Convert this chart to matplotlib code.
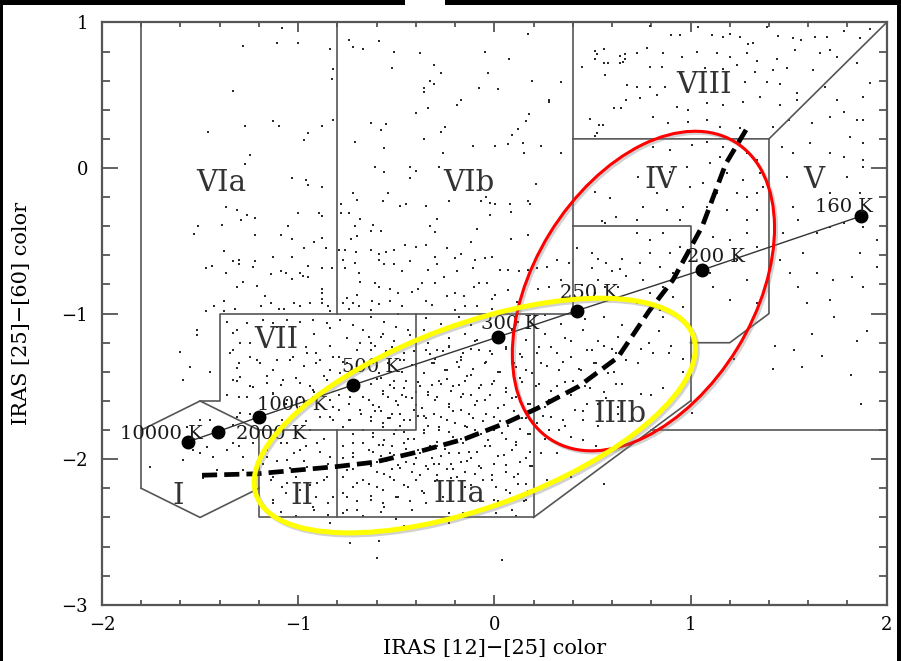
import numpy as np
import matplotlib.pyplot as plt
import matplotlib.patches as patches
import matplotlib.transforms as transforms
import matplotlib.patheffects as pe

plt.rcParams['font.family'] = ['DejaVu Serif']

# --- blackbody sequence --------------------------------------------------
bb_labels = ['10000 K', '2000 K', '1000 K', '500 K', '300 K', '250 K', '200 K', '160 K']
bb_x = [-1.56, -1.41, -1.20, -0.72, 0.02, 0.42, 1.06, 1.87]
bb_y = [-1.88, -1.81, -1.71, -1.49, -1.16, -0.98, -0.70, -0.33]
bb_label_x = [-1.70, -1.14, -1.03, -0.63, 0.08, 0.48, 1.13, 1.78]
bb_label_y = [-1.83, -1.83, -1.63, -1.37, -1.07, -0.86, -0.61, -0.27]

# --- dust shell sequence (dashed) -----------------------------------------
shell_x = [-1.49, -1.21, -0.80, -0.61, -0.39, -0.15, 0.06, 0.22, 0.43, 0.63, 0.79, 0.91, 1.06, 1.18, 1.30]
shell_y = [-2.11, -2.10, -2.05, -2.02, -1.95, -1.86, -1.75, -1.65, -1.50, -1.30, -0.98, -0.77, -0.40, 0.03, 0.30]

# --- region boundaries (van der Veen & Habing boxes) -----------------------
boundaries = [
    [(-1.8, 1.0), (-1.8, -2.2)],
    [(-1.8, -1.8), (-1.5, -1.6), (-1.2, -1.8), (-1.2, -2.2), (-1.5, -2.4), (-1.8, -2.2)],
    [(-1.5, -1.6), (-1.4, -1.6), (-1.4, -1.0), (0.4, -1.0)],
    [(-1.2, -1.8), (-0.4, -1.8), (-0.4, -1.0)],
    [(-0.8, 1.0), (-0.8, -1.0)],
    [(-0.8, -1.8), (-0.8, -2.4)],
    [(-1.2, -2.2), (-1.2, -2.4), (0.2, -2.4), (0.2, -1.0)],
    [(0.4, 1.0), (0.4, -1.0)],
    [(0.4, 0.2), (1.4, 0.2), (2.0, 1.0)],
    [(1.4, 0.2), (1.4, -1.0), (1.2, -1.2), (1.0, -1.2)],
    [(0.4, -0.4), (1.0, -0.4), (1.0, -1.6)],
    [(0.2, -2.4), (1.0, -1.6)],
    [(0.8, -1.8), (2.0, -1.8)],
]

region_names = ['VIa', 'VIb', 'VIII', 'IV', 'V', 'VII', 'I', 'II', 'IIIa', 'IIIb']
region_x = [-1.39, -0.13, 1.07, 0.85, 1.63, -1.11, -1.61, -0.98, -0.18, 0.64]
region_y = [-0.10, -0.10, 0.57, -0.08, -0.08, -1.18, -2.25, -2.25, -2.24, -1.69]

# --- IRAS sources ---------------------------------------------------------
sources_via = [
    (-1.08, 0.96), (-1.28, 0.84), (-1.11, 0.86), (-1.00, 0.86), (-0.84, 0.82), (-0.82, 0.68), (-0.83, 0.61),
    (-1.33, 0.53), (-1.46, 0.25), (-1.27, 0.29), (-1.13, 0.32), (-1.10, 0.29), (-0.97, 0.19), (-0.95, 0.24),
    (-0.88, 0.29), (-1.245, 0.09), (-1.27, 0.03), (-1.03, -0.07), (-0.96, -0.08), (-0.95, -0.12), (-0.88, -0.13),
    (-0.82, 0.33), (-1.37, -0.27), (-1.31, -0.29), (-1.26, -0.32), (-1.22, -0.34), (-1.29, -0.36), (-1.39, -0.39),
    (-1.51, -0.40), (-1.53, -0.45), (-1.22, -0.46), (-1.09, -0.46), (-1.05, -0.40), (-1.03, -0.49), (-1.00, -0.31),
    (-0.895, -0.31), (-0.88, -0.33), (-0.92, -0.51), (-0.88, -0.48), (-0.86, -0.55), (-0.97, -0.55), (-1.38, -0.57),
    (-1.13, -0.61), (-1.03, -0.61), (-1.33, -0.64), (-1.30, -0.63), (-1.30, -0.66), (-1.22, -0.64), (-1.23, -0.68),
    (-1.47, -0.69), (-1.44, -0.67), (-1.37, -0.72), (-1.31, -0.82), (-1.28, -0.78), (-1.21, -0.81), (-1.14, -0.73),
    (-1.09, -0.71), (-1.06, -0.72), (-1.03, -0.76), (-0.99, -0.72), (-0.975, -0.74), (-0.95, -0.75), (-0.95, -0.67),
    (-0.88, -0.69), (-0.83, -0.69), (-1.38, -0.91), (-1.43, -0.95), (-1.47, -0.98), (-1.38, -0.98), (-1.32, -0.97),
    (-1.19, -0.95), (-1.17, -0.88), (-1.14, -0.93), (-1.10, -0.97), (-1.02, -0.93), (-0.99, -0.95), (-0.94, -0.93),
    (-0.88, -0.83), (-0.88, -0.86), (-0.88, -0.90), (-0.88, -0.93), (-0.85, -0.95), (-0.84, -0.98), (-1.07, -0.97),
]

sources_vib = [
    (-0.74, 0.88), (-0.72, 0.83), (-0.67, 0.82), (-0.71, 0.18), (-0.72, -0.17), (-0.70, -0.22), (-0.78, -0.25),
    (-0.78, -0.31), (-0.74, -0.31), (-0.685, -0.35), (-0.71, -0.40), (-0.70, -0.47), (-0.73, -0.49), (-0.79, -0.56),
    (-0.76, -0.56), (-0.705, -0.58), (-0.77, -0.63), (-0.71, -0.65), (-0.76, -0.69), (-0.69, -0.72), (-0.685, -0.78),
    (-0.70, -0.87), (-0.75, -0.89), (-0.72, -0.93), (-0.69, -0.95), (-0.77, -0.93), (-0.74, -0.97),
    (-0.59, 0.875), (-0.51, 0.80), (-0.38, 0.79), (-0.52, 0.69), (-0.31, 0.71), (-0.27, 0.65), (-0.05, 0.80),
    (0.075, 0.75), (0.17, 0.92), (-0.03, 0.65), (-0.36, 0.55), (-0.33, 0.60), (-0.31, 0.58), (-0.36, 0.52),
    (-0.08, 0.55), (0.02, 0.54), (0.19, 0.60), (0.34, 0.59), (0.28, 0.47), (0.28, 0.45), (-0.17, 0.47),
    (-0.19, 0.435), (-0.34, 0.41), (-0.40, 0.38), (0.175, 0.37), (0.16, 0.325), (-0.63, 0.31), (-0.58, 0.26),
    (-0.55, 0.30), (-0.25, 0.28), (-0.27, 0.25), (-0.36, 0.20), (0.12, 0.27), (0.09, 0.23), (-0.56, 0.14),
    (-0.11, 0.15), (0.004, 0.15), (0.07, 0.165), (0.145, 0.17), (0.24, 0.15), (0.15, 0.10), (0.34, 0.10),
    (-0.26, 0.10), (-0.61, 0.01), (-0.56, -0.025), (-0.43, 0.005), (-0.43, -0.07), (-0.40, -0.02), (-0.28, 0.01),
    (0.21, -0.11), (-0.54, -0.17), (-0.57, -0.23), (-0.48, -0.26), (-0.45, -0.25), (-0.35, -0.26), (-0.23, -0.23),
    (-0.07, -0.23), (-0.04, -0.20), (-0.023, -0.24), (0.002, -0.245), (0.08, -0.245), (0.085, -0.305), (0.17, -0.23),
    (0.18, -0.25), (-0.02, -0.32), (-0.29, -0.35), (-0.33, -0.40), (-0.30, -0.44), (-0.09, -0.42), (0.087, -0.49),
    (0.17, -0.46), (-0.62, -0.39), (-0.63, -0.43), (-0.58, -0.43), (-0.455, -0.53), (-0.40, -0.54), (-0.35, -0.53),
    (-0.30, -0.61), (-0.24, -0.55), (-0.12, -0.51), (-0.63, -0.56), (-0.59, -0.59), (-0.55, -0.58), (-0.51, -0.56),
    (-0.59, -0.63), (-0.56, -0.66), (-0.51, -0.66), (-0.47, -0.71), (-0.43, -0.64), (-0.34, -0.70), (-0.29, -0.66),
    (-0.20, -0.62), (-0.17, -0.59), (-0.10, -0.63), (-0.05, -0.62), (-0.013, -0.61), (0.03, -0.70), (0.07, -0.70),
    (0.126, -0.705), (0.17, -0.70), (0.22, -0.69), (0.27, -0.68), (0.32, -0.63), (0.38, -0.655), (-0.107, -0.69),
    (-0.19, -0.705), (-0.255, -0.75), (-0.30, -0.79), (-0.37, -0.79), (-0.387, -0.83), (-0.42, -0.85), (-0.49, -0.86),
    (-0.53, -0.83), (-0.59, -0.815), (-0.61, -0.79), (-0.625, -0.91), (-0.59, -0.935), (-0.53, -0.91), (-0.47, -0.95),
    (-0.35, -0.91), (-0.32, -0.94), (-0.24, -0.88), (-0.20, -0.856), (-0.156, -0.88), (-0.105, -0.815), (-0.08, -0.79),
    (-0.037, -0.79), (0.004, -0.875), (-0.012, -0.90), (0.07, -0.84), (0.14, -0.86), (0.225, -0.83), (0.28, -0.815),
    (0.34, -0.77), (-0.20, -0.975), (-0.15, -0.95), (-0.088, -0.95), (-0.013, -0.97), (0.116, -0.92), (-0.63, -0.975),
]

sources_viii_v = [
    (0.446, 0.696), (0.514, 0.806), (0.56, 0.815), (0.524, 0.78), (0.515, 0.75), (0.56, 0.723), (0.578, 0.72),
    (0.643, 0.77), (0.665, 0.78), (0.668, 0.75), (0.658, 0.73), (0.64, 0.72), (0.565, 0.636), (0.675, 0.57),
    (0.67, 0.467), (0.647, 0.414), (0.61, 0.41), (0.486, 0.337), (0.531, 0.293), (0.555, 0.293), (0.524, 0.238),
    (0.514, 0.22), (0.794, 0.975), (0.899, 0.914), (0.946, 0.916), (1.04, 0.97), (1.108, 0.914), (1.167, 0.902),
    (1.201, 0.92), (1.252, 0.902), (1.32, 0.856), (1.295, 0.85), (1.388, 0.97), (1.448, 0.904), (1.524, 0.89),
    (1.561, 0.879), (1.634, 0.897), (1.694, 0.902), (1.782, 0.943), (1.864, 0.89), (1.915, 0.952), (0.726, 0.79),
    (0.777, 0.822), (0.862, 0.787), (0.955, 0.765), (1.031, 0.799), (1.133, 0.787), (1.201, 0.765), (1.286, 0.787),
    (1.337, 0.737), (1.439, 0.746), (1.533, 0.81), (1.66, 0.792), (1.745, 0.76), (0.794, 0.696), (0.853, 0.696),
    (0.946, 0.65), (1.074, 0.685), (1.167, 0.678), (1.235, 0.707), (1.329, 0.662), (1.422, 0.673), (1.49, 0.689),
    (1.623, 0.673), (0.726, 0.559), (0.794, 0.559), (0.87, 0.559), (1.278, 0.593), (1.388, 0.593), (1.456, 0.577),
    (1.541, 0.513), (1.686, 0.559), (0.743, 0.478), (0.828, 0.501), (0.929, 0.421), (0.989, 0.398), (1.082, 0.444),
    (1.167, 0.433), (1.269, 0.456), (1.354, 0.49), (1.456, 0.433), (1.541, 0.467), (0.81, 0.353), (0.887, 0.307),
    (0.989, 0.318), (1.082, 0.33), (1.15, 0.284), (1.252, 0.272), (1.422, 0.284), (1.50, 0.33), (1.618, 0.307),
    (1.711, 0.353), (1.78, 0.387), (1.881, 0.49), (1.847, 0.33), (1.881, 0.33), (1.711, 0.81), (1.847, 0.719),
    (1.915, 0.581), (1.745, 0.467), (1.813, 0.215), (1.881, 0.169), (1.465, 0.146), (1.524, 0.101), (1.609, 0.169),
    (1.711, 0.101), (1.78, 0.078), (1.881, 0.055), (1.49, -0.06), (1.796, -0.06), (1.881, 0.009), (1.711, -0.174),
    (1.864, -0.174), (1.524, -0.266), (1.549, -0.357), (1.78, -0.38), (1.643, -0.449), (1.711, -0.403), (1.881, -0.403),
    (1.473, -0.449), (1.575, -0.586), (1.864, -0.586), (1.643, -0.724), (1.728, -0.769), (1.821, -0.747), (1.507, -0.724),
    (1.549, -0.815), (1.881, -0.815), (1.592, -0.93), (1.711, -0.907), (1.456, -0.632), (1.949, -0.494), (1.949, -0.678),
]

sources_iv = [
    (0.514, -0.163), (0.59, -0.204), (0.619, -0.334), (0.55, -0.366), (0.564, -0.38), (0.42, -0.547), (0.496, -0.586),
    (0.53, -0.623), (0.571, -0.65), (0.602, -0.705), (0.64, -0.696), (0.649, -0.623), (0.673, -0.74), (0.496, -0.69),
    (0.53, -0.77), (0.565, -0.815), (0.446, -0.806), (0.632, -0.815), (0.514, -0.856), (0.726, 0.135), (0.81, 0.146),
    (0.896, 0.124), (1.006, 0.158), (1.082, 0.181), (1.167, 0.146), (1.15, 0.078), (1.286, 0.101), (1.337, 0.055),
    (1.099, 0.032), (0.98, 0.009), (0.896, -0.025), (0.81, 0.009), (0.734, -0.06), (0.997, -0.128), (1.065, -0.105),
    (1.184, -0.037), (1.269, -0.082), (1.371, -0.128), (1.337, -0.174), (1.286, -0.197), (1.235, -0.174), (1.184, -0.288),
    (1.082, -0.266), (0.963, -0.266), (0.879, -0.288), (0.76, -0.266), (0.828, -0.174), (1.133, -0.174), (0.726, -0.357),
    (0.946, -0.357), (1.337, -0.288), (1.286, -0.357), (1.354, -0.037), (0.726, -0.449), (0.794, -0.495), (0.862, -0.449),
    (0.896, -0.586), (0.794, -0.586), (0.743, -0.655), (0.845, -0.678), (0.912, -0.724), (0.946, -0.54), (0.76, -0.769),
    (0.862, -0.815), (0.794, -0.861), (0.912, -0.884), (0.726, -0.93), (0.963, -0.953), (0.845, -0.975), (1.116, -0.472),
    (1.201, -0.495), (1.286, -0.449), (1.337, -0.54), (1.116, -0.815), (1.286, -0.769), (1.201, -0.907), (1.337, -0.93),
    (1.099, -0.724), (1.235, -0.632),
]

sources_vii_i_ii = [
    (-1.602, -1.262), (-1.517, -1.113), (-1.517, -1.147), (-1.551, -1.365), (-1.449, -1.399), (-1.585, -1.456),
    (-1.347, -1.273), (-1.330, -1.456), (-1.364, -1.559), (-1.313, -1.376), (-1.262, -1.067), (-1.177, -1.044),
    (-1.126, -1.067), (-1.058, -1.044), (-0.99, -1.055), (-0.922, -1.044), (-0.854, -1.067), (-0.786, -1.044),
    (-0.718, -1.078), (-1.364, -1.055), (-1.33, -1.136), (-1.296, -1.204), (-1.245, -1.296), (-1.194, -1.342),
    (-1.109, -1.319), (-1.024, -1.296), (-0.956, -1.273), (-0.888, -1.319), (-0.82, -1.296), (-0.752, -1.342),
    (-1.296, -1.433), (-1.228, -1.502), (-1.16, -1.479), (-1.075, -1.456), (-0.99, -1.479), (-0.922, -1.525),
    (-0.854, -1.456), (-0.786, -1.41), (-0.718, -1.387), (-0.684, -1.204), (-1.262, -1.571), (-1.126, -1.548),
    (-1.058, -1.593), (-0.99, -1.639), (-0.922, -1.571), (-0.82, -1.639), (-0.735, -1.571), (-0.684, -1.662),
    (-0.82, -1.731), (-0.735, -1.731), (-0.888, -1.708), (-1.296, -1.685), (-1.33, -1.765), (-1.449, -1.731),
    (-1.5, -1.731), (-1.568, -1.777), (-1.534, -1.937), (-1.5, -1.96), (-1.466, -1.914), (-1.432, -1.983),
    (-1.364, -1.937), (-1.33, -1.891), (-1.279, -1.983), (-1.228, -1.891), (-1.585, -2.006), (-1.058, -1.891),
    (-0.99, -1.937), (-0.905, -1.891), (-0.837, -1.983), (-0.956, -2.051), (-1.058, -2.006), (-1.126, -2.12),
    (-1.058, -2.166), (-0.99, -2.212), (-0.905, -2.166), (-0.854, -2.12), (-0.82, -2.257), (-0.922, -2.326),
    (-1.126, -2.303), (-0.718, -1.891), (-0.718, -1.983), (-0.752, -2.074), (-0.701, -2.166), (-0.752, -2.257),
    (-0.701, -2.349), (-0.769, -2.372), (-0.837, -2.441), (-0.735, -2.578), (-1.483, -2.132), (-1.755, -2.051),
    (-1.415, -2.074), (-1.279, -2.074), (-1.16, -1.983),
    (-1.31, -1.11), (-1.11, -1.09), (-0.92, -1.14), (-0.84, -1.10), (-0.75, -1.17), (-0.67, -1.11), (-0.58, -1.16),
    (-0.50, -1.09), (-0.43, -1.15), (-0.36, -1.11), (-1.33, -1.25), (-1.245, -1.20), (-0.96, -1.23), (-0.91, -1.27),
    (-0.84, -1.22), (-0.79, -1.30), (-0.70, -1.25), (-0.63, -1.20), (-0.55, -1.27), (-0.48, -1.23), (-0.41, -1.26),
    (-0.34, -1.20), (-1.30, -1.34), (-1.21, -1.32), (-1.13, -1.39), (-1.04, -1.32), (-0.97, -1.36), (-0.91, -1.34),
    (-0.84, -1.39), (-0.77, -1.33), (-0.68, -1.38), (-0.62, -1.34), (-0.53, -1.40), (-0.46, -1.32), (-0.40, -1.36),
    (-1.31, -1.46), (-1.245, -1.50), (-1.16, -1.43), (-1.09, -1.49), (-1.01, -1.44), (-0.94, -1.50), (-0.87, -1.43),
    (-0.82, -1.49), (-0.63, -1.48), (-0.58, -1.44), (-0.51, -1.51), (-0.45, -1.46), (-0.38, -1.50),
    (-1.30, -1.57), (-1.13, -1.55), (-1.06, -1.62), (-0.99, -1.57), (-0.92, -1.54), (-0.84, -1.59), (-0.79, -1.56),
    (-0.74, -1.62), (-0.67, -1.57), (-0.62, -1.63), (-0.57, -1.55), (-0.50, -1.60), (-0.45, -1.57), (-0.40, -1.63),
    (-0.34, -1.56), (-1.31, -1.71), (-1.245, -1.69), (-1.08, -1.73), (-1.01, -1.69), (-0.96, -1.74), (-0.84, -1.71),
    (-0.79, -1.66), (-0.74, -1.73), (-0.68, -1.69), (-0.63, -1.74), (-0.58, -1.67), (-0.53, -1.72), (-0.48, -1.69),
    (-0.43, -1.73), (-0.36, -1.70), (-1.18, -1.80), (-1.13, -1.85), (-1.08, -1.78), (-1.01, -1.83), (-0.94, -1.80),
    (-0.87, -1.86), (-0.77, -1.78), (-0.72, -1.83), (-0.67, -1.80), (-0.62, -1.85), (-0.57, -1.78), (-0.51, -1.83),
    (-0.46, -1.81), (-0.41, -1.86), (-0.36, -1.80), (-1.30, -1.91), (-1.16, -1.94), (-1.09, -1.89), (-1.02, -1.96),
    (-0.96, -1.91), (-0.89, -1.95), (-0.77, -1.91), (-0.72, -1.96), (-0.67, -1.89), (-0.62, -1.95), (-0.57, -1.90),
    (-0.51, -1.97), (-0.45, -1.93), (-0.38, -1.96), (-1.18, -2.03), (-1.11, -2.01), (-1.04, -2.06), (-0.97, -2.01),
    (-0.91, -2.07), (-0.85, -2.03), (-0.77, -1.99), (-0.72, -2.07), (-0.67, -2.03), (-0.60, -2.09), (-0.55, -2.01),
    (-0.48, -2.06), (-0.41, -2.03), (-0.34, -2.07), (-1.14, -2.14), (-1.08, -2.19), (-1.01, -2.12), (-0.94, -2.18),
    (-0.87, -2.14), (-0.77, -2.12), (-0.72, -2.19), (-0.67, -2.14), (-0.60, -2.19), (-0.53, -2.12), (-0.46, -2.18),
    (-0.40, -2.14), (-1.13, -2.28), (-1.06, -2.23), (-0.91, -2.26), (-0.85, -2.30), (-0.77, -2.23), (-0.70, -2.29),
    (-0.63, -2.25), (-0.57, -2.30), (-0.50, -2.26), (-0.43, -2.29), (-0.36, -2.23), (-1.09, -2.36), (-1.01, -2.39),
    (-0.92, -2.35), (-0.85, -2.38), (-0.75, -2.35), (-0.67, -2.39), (-0.58, -2.36), (-0.50, -2.41),
]

sources_iii = [
    (-0.63, -1.02), (-0.56, -1.06), (-0.49, -1.00), (-0.35, -1.03), (-0.27, -1.07), (-0.18, -1.02), (-0.12, -1.08),
    (0.12, -1.06), (0.26, -1.01), (0.34, -1.07), (0.46, -1.04), (0.56, -1.02), (0.65, -1.08),
    (-0.64, -1.16), (-0.57, -1.14), (-0.51, -1.19), (-0.44, -1.11), (-0.32, -1.15), (-0.23, -1.17), (-0.15, -1.14),
    (-0.10, -1.19), (0.09, -1.11), (0.16, -1.18), (0.26, -1.14), (0.36, -1.17), (0.45, -1.11), (0.53, -1.19), (0.63, -1.16),
    (-0.63, -1.25), (-0.58, -1.30), (-0.52, -1.23), (-0.46, -1.27), (-0.35, -1.25), (-0.30, -1.31), (-0.23, -1.23),
    (-0.17, -1.30), (-0.08, -1.25), (-0.01, -1.28), (0.06, -1.24), (0.14, -1.30), (0.22, -1.27), (0.29, -1.23),
    (0.39, -1.30), (0.50, -1.25), (0.60, -1.24), (0.67, -1.32),
    (-0.64, -1.37), (-0.59, -1.41), (-0.54, -1.34), (-0.47, -1.40), (-0.42, -1.35), (-0.36, -1.41), (-0.32, -1.34),
    (-0.25, -1.39), (-0.18, -1.37), (-0.12, -1.42), (-0.05, -1.34), (0.02, -1.40), (0.11, -1.37), (0.19, -1.41),
    (0.24, -1.34), (0.33, -1.39), (0.43, -1.38), (0.51, -1.34), (0.58, -1.41),
    (-0.63, -1.48), (-0.57, -1.53), (-0.51, -1.46), (-0.46, -1.51), (-0.39, -1.47), (-0.34, -1.54), (-0.27, -1.48),
    (-0.22, -1.53), (-0.15, -1.46), (-0.08, -1.51), (-0.01, -1.48), (0.06, -1.54), (0.14, -1.47), (0.21, -1.50),
    (0.29, -1.53), (0.36, -1.47), (0.46, -1.50), (0.56, -1.54), (0.65, -1.48),
    (-0.64, -1.59), (-0.59, -1.64), (-0.54, -1.57), (-0.49, -1.63), (-0.42, -1.58), (-0.37, -1.65), (-0.30, -1.59),
    (-0.23, -1.64), (-0.17, -1.57), (-0.10, -1.63), (-0.05, -1.59), (0.02, -1.65), (0.09, -1.58), (0.17, -1.62),
    (0.26, -1.64), (0.33, -1.57), (0.41, -1.66), (0.53, -1.62), (0.63, -1.64),
    (-0.63, -1.71), (-0.57, -1.75), (-0.52, -1.69), (-0.46, -1.73), (-0.39, -1.70), (-0.34, -1.77), (-0.27, -1.71),
    (-0.20, -1.75), (-0.13, -1.69), (-0.06, -1.74), (0.00, -1.71), (0.07, -1.77), (0.14, -1.72), (0.22, -1.75),
    (0.29, -1.71), (0.36, -1.77), (0.45, -1.73), (0.53, -1.77), (0.63, -1.69),
    (-0.62, -1.82), (-0.56, -1.87), (-0.50, -1.80), (-0.44, -1.86), (-0.36, -1.82), (-0.29, -1.88), (-0.23, -1.81),
    (-0.17, -1.86), (-0.10, -1.80), (-0.03, -1.87), (0.04, -1.82), (0.11, -1.88), (0.17, -1.83), (0.26, -1.86),
    (0.33, -1.80), (0.45, -1.87),
    (-0.64, -1.94), (-0.58, -1.98), (-0.52, -1.91), (-0.46, -1.97), (-0.39, -1.94), (-0.32, -1.99), (-0.25, -1.93),
    (-0.18, -1.96), (-0.12, -1.99), (-0.05, -1.91), (0.02, -1.98), (0.09, -1.94), (0.16, -1.99), (0.24, -1.96),
    (-0.63, -2.05), (-0.56, -2.10), (-0.49, -2.04), (-0.42, -2.09), (-0.35, -2.05), (-0.29, -2.11), (-0.22, -2.03),
    (-0.15, -2.09), (-0.08, -2.05), (-0.01, -2.11), (0.06, -2.04), (0.12, -2.10), (0.19, -2.05),
    (-0.64, -2.17), (-0.57, -2.21), (-0.51, -2.14), (-0.44, -2.19), (-0.37, -2.22), (-0.30, -2.15), (-0.22, -2.13),
    (-0.15, -2.19), (-0.01, -2.14), (0.06, -2.21), (0.12, -2.17), (0.17, -2.22),
    (-0.63, -2.28), (-0.56, -2.33), (-0.49, -2.26), (-0.42, -2.35), (-0.35, -2.30), (0.02, -2.29), (0.09, -2.35),
    (0.16, -2.28), (-0.23, -2.37),
    (-0.59, -2.56), (-0.60, -2.68), (0.04, -2.69), (-0.23, -2.44), (-0.46, -2.46), (0.56, -2.17),
    (-0.61, -1.22), (-0.55, -1.26), (-0.48, -1.32), (-0.40, -1.20), (-0.33, -1.28), (-0.26, -1.26), (-0.19, -1.33),
    (-0.12, -1.24), (-0.60, -1.45), (-0.53, -1.49), (-0.47, -1.56), (-0.40, -1.54), (-0.32, -1.49), (-0.24, -1.45),
    (-0.18, -1.49), (-0.12, -1.56), (-0.61, -1.67), (-0.54, -1.72), (-0.48, -1.77), (-0.41, -1.66), (-0.35, -1.72),
    (-0.28, -1.78), (-0.21, -1.67), (-0.15, -1.77), (-0.59, -1.90), (-0.53, -1.96), (-0.46, -1.89), (-0.40, -1.99),
    (-0.33, -1.91), (-0.27, -1.98), (-0.20, -1.89), (-0.13, -1.95), (-0.60, -2.02), (-0.52, -2.07), (-0.45, -2.02),
    (-0.38, -2.11), (-0.31, -2.03), (-0.24, -2.07), (-0.17, -2.02), (-0.10, -2.10),
    (-0.29, -1.25), (-0.23, -1.22), (-0.16, -1.27), (-0.09, -1.18), (-0.02, -1.26), (0.06, -1.23), (0.13, -1.28),
    (0.23, -1.23), (0.32, -1.27), (0.39, -1.19), (0.47, -1.25), (0.56, -1.22), (0.62, -1.27),
    (-0.31, -1.34), (-0.24, -1.39), (-0.17, -1.32), (-0.11, -1.38), (-0.04, -1.33), (0.03, -1.40), (0.10, -1.34),
    (0.16, -1.39), (0.27, -1.36), (0.35, -1.33), (0.44, -1.39), (0.52, -1.34), (0.61, -1.40),
    (-0.28, -1.46), (-0.21, -1.50), (-0.14, -1.43), (-0.07, -1.49), (0.00, -1.46), (0.06, -1.51), (0.13, -1.44),
    (0.23, -1.48), (0.32, -1.50), (0.40, -1.46), (0.49, -1.51), (0.62, -1.48),
    (-0.29, -1.57), (-0.23, -1.62), (-0.16, -1.55), (-0.09, -1.60), (-0.02, -1.56), (0.05, -1.63), (0.11, -1.57),
    (0.18, -1.62), (0.28, -1.59), (0.39, -1.56), (0.47, -1.62), (0.57, -1.58),
    (-0.31, -1.69), (-0.24, -1.73), (-0.17, -1.66), (-0.11, -1.72), (-0.04, -1.69), (0.03, -1.74), (0.10, -1.67),
    (0.16, -1.72), (0.25, -1.70), (0.35, -1.73), (0.45, -1.67),
    (-0.28, -1.80), (-0.21, -1.85), (-0.14, -1.78), (-0.07, -1.83), (0.00, -1.80), (0.06, -1.86), (0.13, -1.79),
    (0.18, -1.83), (0.28, -1.80), (0.39, -1.85),
    (-0.29, -1.91), (-0.23, -1.96), (-0.16, -1.89), (-0.09, -1.95), (-0.02, -1.91), (0.05, -1.97), (0.11, -1.90),
    (0.18, -1.95), (0.32, -1.96), (0.52, -1.91),
    (-0.28, -2.03), (-0.21, -2.07), (-0.14, -2.01), (-0.07, -2.06), (0.00, -2.03), (0.06, -2.09), (0.13, -2.02),
    (0.18, -2.05), (-0.29, -2.14), (-0.19, -2.12), (-0.12, -2.18), (-0.06, -2.14), (0.01, -2.19), (0.10, -2.12),
    (0.16, -2.17), (0.27, -2.14), (0.39, -2.12), (-0.26, -2.26), (0.00, -2.28), (0.08, -2.23), (0.15, -2.29),
    (0.01, -2.37), (-0.16, -2.37), (0.11, -2.39),
    (1.73, -1.02), (1.62, -1.14), (1.90, -1.12), (1.85, -1.19), (1.43, -1.22), (1.53, -1.25), (1.67, -1.29),
    (1.42, -1.38), (1.57, -1.37), (1.82, -1.42), (1.87, -1.62), (1.22, -1.31), (1.01, -1.68), (0.86, -1.02),
    (0.84, -1.12), (0.90, -1.22), (0.89, -1.27), (0.79, -1.20), (0.81, -1.27), (0.75, -1.24), (0.73, -1.34),
    (0.96, -1.31), (0.96, -1.40), (0.75, -1.55), (0.80, -1.56), (0.86, -1.51),
]

sources = np.array(sources_via + sources_vib + sources_viii_v + sources_iv + sources_vii_i_ii + sources_iii)

# --- highlight ellipses: centre (data), size (inches), angle (deg) --------
red_centre, red_size, red_angle = (0.76, -0.845), (3.50, 2.20), 58.4
yellow_centre, yellow_size, yellow_angle = (-0.10, -1.70), (4.65, 1.83), 20.1

fig = plt.figure(figsize=(9.01, 6.61), dpi=100)
ax = fig.add_axes([0.1132, 0.085, 0.8709, 0.8811])
ax.set_xlim(-2, 2)
ax.set_ylim(-3, 1)

frame_col = '#555555'
for sp in ax.spines.values():
    sp.set_color(frame_col)
    sp.set_linewidth(1.6)

ax.set_xticks([-2, -1, 0, 1, 2])
ax.set_yticks([-3, -2, -1, 0, 1])
ax.set_xticks(np.arange(-2, 2.01, 0.2), minor=True)
ax.set_yticks(np.arange(-3, 1.01, 0.2), minor=True)
ax.set_xticklabels(['\u22122', '\u22121', '0', '1', '2'])
ax.set_yticklabels(['\u22123', '\u22122', '\u22121', '0', '1'])
ax.tick_params(which='both', direction='in', top=True, right=True, color=frame_col, width=1.3)
ax.tick_params(axis='x', which='major', length=7.5, pad=8, labelsize=13)
ax.tick_params(axis='x', which='minor', length=3.8)
ax.tick_params(axis='y', which='major', length=11.5, pad=10, labelsize=13)
ax.tick_params(axis='y', which='minor', length=5.8)

ax.set_xlabel('IRAS [12]\u2212[25] color', fontsize=15, labelpad=4)
ax.set_ylabel('IRAS [25]\u2212[60] color', fontsize=15, labelpad=22)

# sources
ax.scatter(sources[:, 0], sources[:, 1], s=3.5, marker='s', color='#2a2a2a', lw=0, zorder=2)

# region boxes
for seg in boundaries:
    xs, ys = zip(*seg)
    ax.plot(xs, ys, color=frame_col, lw=1.2, zorder=3, clip_on=False)

for name, x, y in zip(region_names, region_x, region_y):
    ax.text(x, y, name, fontsize=21, color='#333333', ha='center', va='center', zorder=4)

# blackbody line with temperature marks
ax.plot(bb_x, bb_y, color='#333333', lw=1.0, zorder=4)
ax.plot(bb_x, bb_y, 'o', color='black', ms=9, zorder=5)
for lab, x, y in zip(bb_labels, bb_label_x, bb_label_y):
    ax.text(x, y, lab, fontsize=14, color='#1a1a1a', ha='center', va='center', zorder=5)

# dust shell sequence
ax.plot(shell_x, shell_y, color='black', lw=3.4, dashes=(3.2, 1.5), dash_capstyle='butt', zorder=5)


def add_ellipse(centre, size, angle, colour, lw):
    tr = fig.dpi_scale_trans + transforms.ScaledTranslation(centre[0], centre[1], ax.transData)
    e = patches.Ellipse((0, 0), size[0], size[1], angle=angle, transform=tr, fill=False,
                        ec=colour, lw=lw, zorder=7, clip_on=False)
    e.set_path_effects([pe.SimpleLineShadow(offset=(1.5, -1.5), shadow_color='#808080', alpha=0.35),
                        pe.Normal()])
    fig.add_artist(e)


add_ellipse(red_centre, red_size, red_angle, '#ff0000', 2.2)
add_ellipse(yellow_centre, yellow_size, yellow_angle, '#ffff00', 3.6)

# slide border
W, H = 901, 661
for x0, y0, w, h in [(0, H - 5, 405, 5), (445, H - 5, W - 445, 5), (0, 0, 3, H), (W - 4, 0, 4, H)]:
    fig.add_artist(patches.Rectangle((x0 / W, y0 / H), w / W, h / H, transform=fig.transFigure,
                                     color='black', lw=0))

fig.savefig('out.png', dpi=100)
